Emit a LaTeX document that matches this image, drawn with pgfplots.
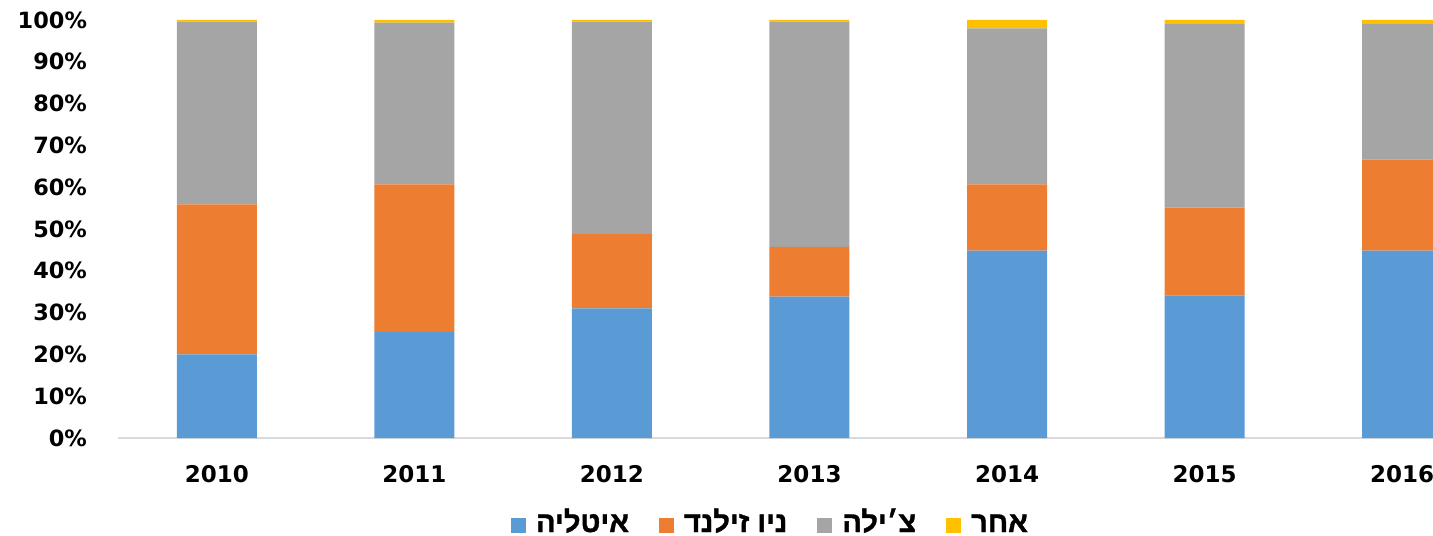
\documentclass[border=0pt]{standalone}
\usepackage{fontspec}
\setmainfont{DejaVu Sans}
\newfontfamily\hebfont[Script=Hebrew, FakeBold=1.2]{Liberation Sans Bold}
\TeXXeTstate=1
\usepackage{pgfplots}
\pgfplotsset{compat=1.18}
\definecolor{cblue}{HTML}{5B9BD5}
\definecolor{corange}{HTML}{ED7D31}
\definecolor{cgray}{HTML}{A5A5A5}
\definecolor{cyellow}{HTML}{FFC000}
\definecolor{axisgray}{HTML}{D9D9D9}
\begin{document}
\begin{tikzpicture}
\begin{axis}[
  scale only axis, width=657.5pt, height=209pt,
  ybar stacked, bar width=40pt,
  xmin=-0.5, xmax=6.156, ymin=0, ymax=100,
  xtick={0,1,2,3,4,5,6},
  xticklabels={2010,2011,2012,2013,2014,2015,2016},
  ytick={0,10,20,30,40,50,60,70,80,90,100},
  yticklabels={0\%,10\%,20\%,30\%,40\%,50\%,60\%,70\%,80\%,90\%,100\%},
  separate axis lines,
  axis x line*=bottom, axis y line*=left,
  x axis line style={draw=axisgray, line width=0.6pt, -},
  y axis line style={draw=none},
  major tick length=0pt, tick style={draw=none},
  yticklabel style={font=\bfseries\fontsize{11.2}{12}\selectfont, anchor=east, xshift=-12pt},
  xticklabel style={font=\bfseries\fontsize{11.5}{12}\selectfont, yshift=-10pt},
  legend columns=4,
  legend style={at={(0.497,-0.201)}, anchor=center, draw=none, fill=none,
    font=\hebfont\fontsize{14.5}{15}\selectfont,
    nodes={text height=11.5pt, text depth=1.5pt, anchor=base west},
    /tikz/every odd column/.append style={column sep=3pt},
    /tikz/every even column/.append style={column sep=13pt}},
  legend image code/.code={\draw[#1, draw=none] (0pt,-0.5pt) rectangle (7.5pt,7pt);},
]
\addplot[fill=cblue, draw=none] coordinates {(0,20.0) (1,25.4) (2,31.0) (3,33.8) (4,44.8) (5,34.1) (6,44.8)};
\addplot[fill=corange, draw=none] coordinates {(0,35.9) (1,35.3) (2,17.8) (3,11.9) (4,15.9) (5,21.0) (6,21.8)};
\addplot[fill=cgray, draw=none] coordinates {(0,43.7) (1,38.7) (2,50.8) (3,53.9) (4,37.3) (5,43.9) (6,32.4)};
\addplot[fill=cyellow, draw=none] coordinates {(0,0.4) (1,0.6) (2,0.4) (3,0.4) (4,2.0) (5,1.0) (6,1.0)};
\legend{\beginR איטליה\endR, \beginR ניו זילנד\endR, \beginR צ׳ילה\endR, \beginR אחר\endR}
\end{axis}
\pgfresetboundingbox
\path (-59pt,-48.5pt) rectangle (657.5pt,219pt);
\end{tikzpicture}
\end{document}
